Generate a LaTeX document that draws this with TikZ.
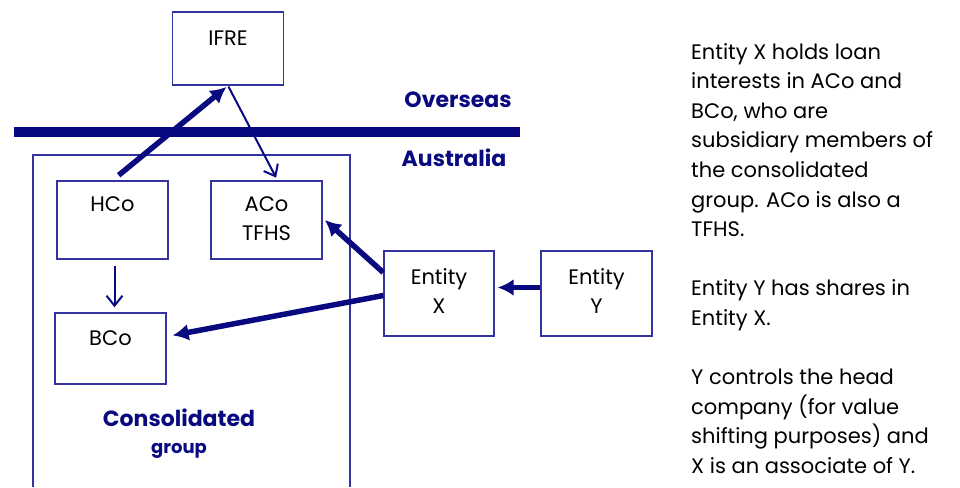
\documentclass[tikz,border=0pt]{standalone}
\usepackage{fontspec}
\setmainfont{Poppins}
\usetikzlibrary{arrows.meta}

\definecolor{navy}{RGB}{10,10,128}
\definecolor{boxblue}{RGB}{51,51,160}

\begin{document}
\begin{tikzpicture}[x=1pt,y=-1pt,
        box/.style={draw=boxblue, line width=1.4pt, minimum width=111pt, align=center,
            font=\fontsize{21}{29}\selectfont, inner sep=0pt},
        thickarr/.style={draw=navy, line width=5.5pt, -{Latex[length=16pt,width=17pt]}},
        thinarr/.style={draw=navy, line width=2pt, -{Straight Barb[length=10pt,width=16pt]}},
        region/.style={text=navy, font=\fontsize{22}{24}\selectfont\bfseries}
    ]
        \useasboundingbox (0,0) rectangle (960,487);

        % overseas / australia divide
        \draw[navy, line width=10pt] (14,132) -- (520,132);
        \node[region] (overseas) at (458,100) {Overseas};
        \node[region] (australia) at (454,158) {Australia};

        % consolidated group frame
        \draw[boxblue, line width=1.4pt] (33,487) |- (350,155) -- (350,487);
        \node[region, align=center, font=\fontsize{22}{27}\selectfont\bfseries] (cgroup) at (179,434)
            {Consolidated\\{\fontsize{18}{18}\selectfont group}};

        % entities
        \node[box, minimum height=73pt] (ifre) at (228,48.5) {\strut IFRE\\[-12pt]\strut};
        \node[box, minimum height=78pt] (hco) at (112.5,220) {\strut HCo\\\strut};
        \node[box, minimum height=78pt] (aco) at (266.5,220) {\strut ACo\\\strut TFHS};
        \node[box, minimum height=71pt] (bco) at (110.5,348.5) {\strut BCo\\[-12pt]\strut};
        \node[box, minimum height=85pt, minimum width=110pt] (ex) at (439,293.5) {\strut Entity\\\strut X};
        \node[box, minimum height=85pt] (ey) at (596.5,293.5) {\strut Entity\\\strut Y};

        \draw[thickarr, shorten <=8pt, shorten >=2pt] (hco.north) -- (ifre.south);
        \draw[thinarr, shorten <=1pt, shorten >=3pt] (ifre.south) -- ([xshift=11pt]aco.north);
        \draw[thinarr, shorten <=6pt, shorten >=5pt] ([xshift=2pt]hco.south) -- ([xshift=4pt]bco.north);
        \draw[thickarr, shorten >=3pt] ([yshift=21pt]ex.west) -- ([yshift=2pt]aco.east);
        \draw[thickarr, shorten >=6pt] ([yshift=-2pt]ex.west) -- ([yshift=12pt]bco.east);
        \draw[thickarr, shorten >=3pt] ([yshift=6pt]ey.west) -- ([yshift=6pt]ex.east);

        % notes
        \node[anchor=north west, align=left, inner sep=0pt, font=\fontsize{21}{29.6}\selectfont] (notes) at (691,43)
            {Entity X holds loan\\
             interests in ACo and\\
             BCo, who are\\
             subsidiary members of\\
             the consolidated\\
             group. ACo is also a\\
             TFHS.\\[29.6pt]
             Entity Y has shares in\\
             Entity X.\\[29.6pt]
             Y controls the head\\
             company (for value\\
             shifting purposes) and\\
             X is an associate of Y.};
    \end{tikzpicture}
\end{document}
